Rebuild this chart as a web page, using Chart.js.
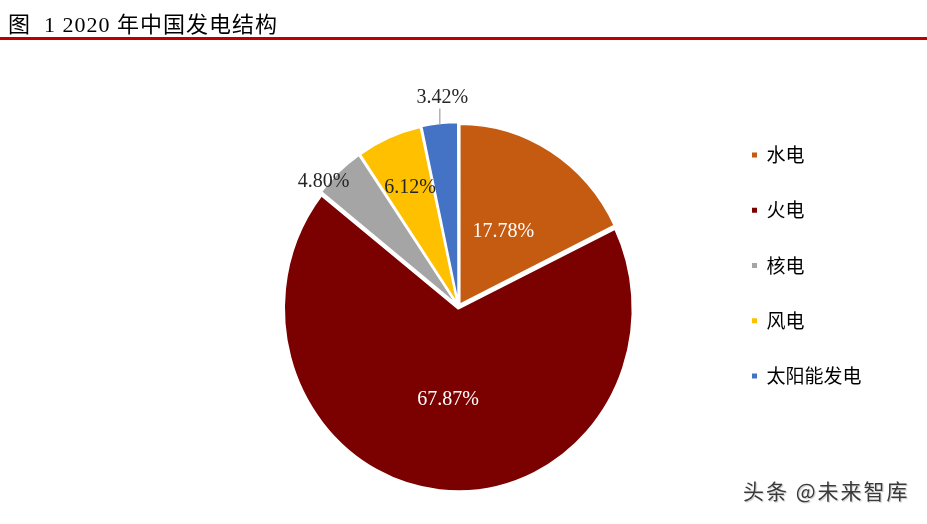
<!DOCTYPE html>
<html>
<head>
<meta charset="utf-8">
<script src="https://cdn.jsdelivr.net/npm/chart.js@4"></script>
<style>
  body { margin: 0; width: 927px; height: 524px; background: #fff; overflow: hidden; position: relative; }
  #title { position: absolute; left: 8px; top: 14px; font-size: 22px; line-height: 22px; letter-spacing: 1px;
           font-family: 'Liberation Serif', 'Noto Sans CJK SC', serif; color: #000; white-space: pre; z-index: 2; }
  #rule { position: absolute; left: 0; top: 37px; width: 927px; height: 3px; background: #C00000; z-index: 2; }
  #wrap { position: absolute; left: 0; top: 0; width: 927px; height: 524px; }
  #mark { position: absolute; left: 743px; top: 480px; font-size: 21px; line-height: 21px; letter-spacing: 2px;
          font-family: 'Noto Sans CJK SC', sans-serif; color: #3a3a3a; white-space: pre;
          text-shadow: 0 0 2px #fff, 1px 1px 1px #bbb; }
</style>
</head>
<body>
<div id="title">图  1 2020 年中国发电结构</div>
<div id="rule"></div>
<div id="wrap"><canvas id="chart"></canvas></div>
<div id="mark">头条 @未来智库</div>
<script>
// 2020 年发电结构（%）
const labels = ["水电", "火电", "核电", "风电", "太阳能发电"];
const shares = [17.78, 67.87, 4.8, 6.12, 3.42];
const colors = ["#C55A11", "#7B0000", "#A5A5A5", "#FFC000", "#4472C4"];

// label placement: fraction of radius, angle shift in degrees
const labelSpots = [
  { f: 0.49, shift: 0, color: "#ffffff" },
  { f: 0.52, shift: 0.5, color: "#ffffff" },
  { f: 1.045, shift: -5.6, color: "#262626" },
  { f: 0.714, shift: 0.2, color: "#262626" },
  { f: 1.161, shift: 1.5, color: "#262626", leader: true },
];

// the source pie is a bit taller than wide
const stretchY = 1.048;

const stretchPie = {
  id: "stretchPie",
  beforeDatasetsDraw(chart) {
    const arc = chart.getDatasetMeta(0).data[0];
    const ctx = chart.ctx;
    ctx.save();
    ctx.translate(arc.x, arc.y);
    ctx.scale(1, stretchY);
    ctx.translate(-arc.x, -arc.y);
  },
  afterDatasetsDraw(chart) {
    chart.ctx.restore();
  },
};

const sliceLabels = {
  id: "sliceLabels",
  afterDraw(chart) {
    const ctx = chart.ctx;
    const arcs = chart.getDatasetMeta(0).data;
    ctx.save();
    ctx.font = '20px "Liberation Serif"';
    ctx.textAlign = "center";
    ctx.textBaseline = "middle";
    arcs.forEach((arc, i) => {
      const spot = labelSpots[i];
      const p = arc.getProps(["startAngle", "endAngle", "outerRadius", "x", "y"], true);
      const mid = (p.startAngle + p.endAngle) / 2;
      const a = mid + (spot.shift * Math.PI) / 180;
      const d = p.outerRadius * spot.f;
      const lx = p.x + Math.cos(a) * d;
      const ly = p.y + Math.sin(a) * d * stretchY;
      if (spot.leader) {
        const ex = p.x + Math.cos(mid) * (p.outerRadius + 2);
        const ey = p.y + Math.sin(mid) * (p.outerRadius + 2) * stretchY;
        ctx.strokeStyle = "#A6A6A6";
        ctx.lineWidth = 1.3;
        ctx.beginPath();
        ctx.moveTo(ex, ey);
        ctx.lineTo(ex, ly + 11);
        ctx.stroke();
      }
      ctx.fillStyle = spot.color;
      ctx.fillText(shares[i].toFixed(2) + "%", lx, ly);
    });
    ctx.restore();
  },
};

function drawChart() {
  const ctx = document.getElementById("chart").getContext("2d");
  new Chart(ctx, {
    type: "pie",
    data: {
      labels: labels,
      datasets: [
        {
          data: shares,
          backgroundColor: colors,
          borderColor: "#ffffff",
          borderWidth: 2,
          offset: 8,
        },
      ],
    },
    options: {
      responsive: true,
      maintainAspectRatio: false,
      animation: false,
      events: [],
      radius: 172.3,
      layout: { padding: { left: 201.25, right: 55.5, top: 109.25, bottom: 20.25 } },
      plugins: {
        tooltip: { enabled: false },
        legend: {
          position: "right",
          align: "start",
          labels: {
            boxWidth: 5,
            boxHeight: 5,
            padding: 36.25,
            color: "#1a1a1a",
            font: { family: "'Noto Sans CJK SC', sans-serif", size: 19 },
            generateLabels: () =>
              labels.map((text, i) => ({
                text: text,
                fillStyle: colors[i],
                strokeStyle: colors[i],
                lineWidth: 0,
                hidden: false,
                index: i,
              })),
          },
        },
      },
    },
    plugins: [stretchPie, sliceLabels],
  });
}

drawChart();
</script>
</body>
</html>
